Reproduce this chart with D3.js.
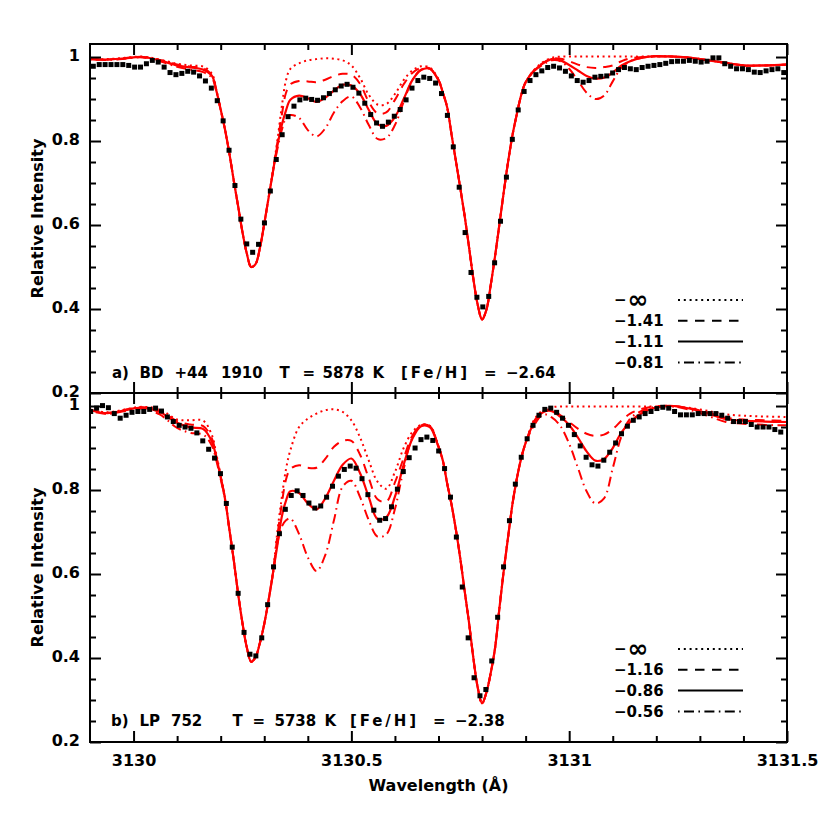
<!DOCTYPE html>
<html><head><meta charset="utf-8">
<script src="https://cdn.jsdelivr.net/npm/d3@7"></script>
<style>
body{margin:0;background:#fff;}
svg text{font-family:"DejaVu Sans",sans-serif;font-weight:bold;fill:#000;}
</style></head><body>
<svg id="chart" width="830" height="830"></svg>
<script>
// ---------------- DATA ----------------
const modelWave = [
3129.90,3129.94,3129.98,3130.02,3130.06,3130.10,3130.13,3130.16,
3130.18,3130.19,3130.20,3130.21,3130.22,3130.23,3130.24,3130.25,3130.26,3130.27,3130.28,3130.29,3130.30,3130.31,3130.32,3130.33,3130.34,3130.35,3130.36,
3130.38,3130.40,3130.42,3130.44,3130.46,3130.48,3130.50,3130.52,3130.54,3130.56,3130.58,3130.60,3130.62,3130.64,3130.66,3130.68,3130.70,
3130.71,3130.72,3130.73,3130.74,3130.75,3130.76,3130.77,3130.78,3130.79,3130.80,3130.81,3130.82,3130.83,3130.84,3130.85,3130.86,3130.87,3130.88,3130.89,3130.90,
3130.92,3130.94,3130.96,3130.98,3131.00,3131.02,3131.04,3131.06,3131.08,3131.10,3131.12,3131.14,
3131.17,3131.20,3131.24,3131.28,3131.32,3131.36,3131.40,3131.45,3131.50];

// panel a) models
const topInf = [
0.995,0.995,0.998,1.001,0.994,0.984,0.980,0.977,
0.960,0.922,0.876,0.827,0.770,0.706,0.645,0.583,0.532,0.500,0.507,0.545,0.603,0.665,0.730,0.800,0.880,0.945,0.972,
0.985,0.992,0.995,0.997,0.996,0.992,0.980,0.950,0.910,0.887,0.888,0.912,0.945,0.968,0.978,0.975,0.947,
0.915,0.880,0.815,0.752,0.688,0.622,0.548,0.472,0.410,0.375,0.398,0.458,0.527,0.603,0.680,0.752,0.815,0.865,0.910,0.940,
0.970,0.988,0.998,1.001,1.001,1.001,1.001,1.001,1.001,1.001,1.001,1.001,
1.001,1.002,1.001,0.998,0.992,0.986,0.980,0.980,0.982];
const topM141 = [
0.995,0.994,0.997,1.000,0.993,0.982,0.977,0.973,
0.957,0.921,0.875,0.827,0.770,0.706,0.645,0.583,0.532,0.500,0.507,0.545,0.603,0.665,0.727,0.795,0.860,0.915,0.935,
0.943,0.942,0.940,0.946,0.955,0.960,0.958,0.936,0.893,0.866,0.868,0.898,0.935,0.962,0.974,0.973,0.946,
0.915,0.880,0.815,0.752,0.688,0.622,0.548,0.472,0.410,0.375,0.398,0.458,0.527,0.603,0.680,0.752,0.815,0.865,0.910,0.940,
0.969,0.986,0.996,0.996,0.990,0.982,0.976,0.974,0.976,0.980,0.990,0.997,
1.000,1.002,1.001,0.998,0.992,0.986,0.980,0.980,0.982];
const topM111 = [
0.995,0.994,0.997,1.000,0.992,0.980,0.975,0.970,
0.955,0.920,0.875,0.827,0.770,0.706,0.645,0.583,0.532,0.500,0.507,0.545,0.603,0.665,0.727,0.788,0.837,0.873,0.898,
0.908,0.902,0.893,0.903,0.920,0.934,0.932,0.912,0.874,0.840,0.836,0.857,0.900,0.945,0.969,0.972,0.945,
0.915,0.880,0.815,0.752,0.688,0.622,0.548,0.472,0.410,0.375,0.398,0.458,0.527,0.603,0.680,0.752,0.815,0.865,0.910,0.940,
0.968,0.985,0.995,0.992,0.981,0.968,0.955,0.949,0.951,0.963,0.980,0.990,
0.999,1.002,1.001,0.998,0.992,0.986,0.980,0.980,0.982];
const topM081 = [
0.995,0.993,0.996,0.999,0.990,0.977,0.970,0.964,
0.950,0.918,0.874,0.827,0.770,0.706,0.645,0.583,0.532,0.500,0.507,0.545,0.603,0.665,0.727,0.780,0.825,0.855,0.862,
0.855,0.826,0.811,0.830,0.868,0.895,0.906,0.880,0.838,0.805,0.807,0.838,0.893,0.945,0.970,0.972,0.944,
0.915,0.880,0.815,0.752,0.688,0.622,0.548,0.472,0.410,0.375,0.398,0.458,0.527,0.603,0.680,0.752,0.815,0.865,0.910,0.940,
0.967,0.982,0.992,0.990,0.972,0.944,0.915,0.900,0.908,0.942,0.975,0.990,
0.999,1.001,1.001,0.998,0.992,0.986,0.980,0.980,0.982];

// panel b) models
const botInf = [
0.992,0.985,0.992,0.998,0.992,0.968,0.966,0.965,
0.930,0.885,0.835,0.780,0.706,0.633,0.553,0.483,0.425,0.391,0.402,0.436,0.481,0.538,0.605,0.700,0.780,0.850,0.895,
0.950,0.970,0.982,0.990,0.992,0.986,0.966,0.925,0.870,0.820,0.803,0.843,0.900,0.938,0.955,0.953,0.904,
0.870,0.815,0.765,0.705,0.637,0.560,0.485,0.400,0.330,0.292,0.318,0.365,0.425,0.520,0.610,0.690,0.768,0.828,0.876,0.912,
0.968,0.990,0.997,0.999,0.999,0.999,0.999,0.999,0.999,0.999,0.999,0.999,
0.999,0.999,0.999,0.995,0.988,0.980,0.977,0.975,0.974];
const botM116 = [
0.991,0.984,0.991,0.997,0.989,0.964,0.956,0.952,
0.922,0.880,0.832,0.779,0.706,0.633,0.553,0.483,0.425,0.391,0.402,0.436,0.481,0.538,0.602,0.690,0.765,0.825,0.850,
0.859,0.853,0.853,0.874,0.903,0.917,0.917,0.884,0.828,0.778,0.772,0.818,0.876,0.929,0.954,0.952,0.903,
0.870,0.815,0.765,0.705,0.637,0.560,0.485,0.400,0.330,0.292,0.318,0.365,0.425,0.520,0.610,0.690,0.768,0.828,0.876,0.912,
0.965,0.987,0.992,0.978,0.962,0.946,0.934,0.929,0.932,0.945,0.965,0.982,
0.994,0.999,1.000,0.994,0.984,0.972,0.968,0.966,0.965];
const botM086 = [
0.990,0.983,0.990,0.996,0.986,0.960,0.949,0.945,
0.915,0.877,0.831,0.779,0.706,0.633,0.553,0.483,0.425,0.391,0.402,0.436,0.481,0.538,0.602,0.668,0.735,0.775,0.797,
0.793,0.768,0.754,0.780,0.822,0.860,0.875,0.840,0.783,0.731,0.735,0.784,0.860,0.922,0.952,0.950,0.902,
0.870,0.815,0.765,0.705,0.637,0.560,0.485,0.400,0.330,0.292,0.318,0.365,0.425,0.520,0.610,0.690,0.768,0.828,0.876,0.912,
0.962,0.985,0.988,0.974,0.955,0.925,0.892,0.870,0.874,0.900,0.937,0.962,
0.985,0.997,1.000,0.993,0.982,0.969,0.965,0.963,0.962];
const botM056 = [
0.988,0.981,0.988,0.994,0.980,0.948,0.936,0.932,
0.905,0.870,0.826,0.776,0.706,0.633,0.553,0.483,0.425,0.391,0.402,0.436,0.481,0.538,0.600,0.672,0.712,0.728,0.732,
0.695,0.640,0.607,0.645,0.728,0.808,0.822,0.783,0.728,0.689,0.694,0.755,0.850,0.925,0.954,0.952,0.904,
0.870,0.815,0.765,0.705,0.637,0.560,0.485,0.400,0.330,0.292,0.318,0.365,0.425,0.520,0.610,0.690,0.768,0.828,0.876,0.912,
0.955,0.980,0.973,0.952,0.910,0.853,0.797,0.768,0.780,0.852,0.928,0.970,
0.990,0.998,0.999,0.990,0.976,0.962,0.958,0.955,0.954];

// observed spectra (uniformly sampled)
const topObsStart = 3129.9076, topObsStep = 0.013547;
const topObs = [
0.978,0.982,0.982,0.982,0.982,0.982,0.980,0.976,0.976,0.984,
0.992,0.988,0.976,0.963,0.958,0.961,0.966,0.964,0.955,0.943,
0.926,0.896,0.848,0.778,0.694,0.614,0.555,0.535,0.554,0.605,
0.681,0.756,0.815,0.858,0.883,0.898,0.902,0.899,0.897,0.903,
0.913,0.922,0.931,0.935,0.928,0.914,0.890,0.863,0.843,0.835,
0.845,0.859,0.875,0.898,0.926,0.944,0.952,0.949,0.938,0.913,
0.861,0.786,0.690,0.582,0.487,0.428,0.405,0.430,0.510,0.609,
0.714,0.804,0.874,0.918,0.944,0.958,0.967,0.975,0.978,0.974,
0.966,0.955,0.944,0.940,0.944,0.952,0.954,0.955,0.962,0.970,
0.975,0.972,0.970,0.975,0.978,0.980,0.982,0.985,0.989,0.990,
0.990,0.992,0.990,0.988,0.990,0.998,0.998,0.984,0.978,0.972,
0.972,0.970,0.964,0.963,0.967,0.970,0.972,0.963];
const botObsStart = 3129.9016, botObsStep = 0.013539;
const botObs = [
0.987,0.995,1.001,0.996,0.982,0.971,0.978,0.985,0.987,0.987,
0.992,0.995,0.988,0.974,0.963,0.954,0.950,0.947,0.936,0.917,
0.897,0.876,0.839,0.768,0.664,0.554,0.461,0.409,0.405,0.448,
0.527,0.617,0.696,0.754,0.787,0.798,0.787,0.769,0.757,0.762,
0.783,0.809,0.833,0.849,0.857,0.852,0.827,0.789,0.752,0.728,
0.732,0.760,0.802,0.844,0.877,0.900,0.920,0.926,0.918,0.893,
0.851,0.783,0.688,0.569,0.448,0.353,0.310,0.325,0.393,0.497,
0.617,0.727,0.814,0.878,0.922,0.954,0.978,0.992,0.995,0.985,
0.971,0.954,0.932,0.905,0.878,0.860,0.857,0.871,0.890,0.912,
0.934,0.952,0.966,0.974,0.982,0.987,0.994,0.997,0.995,0.987,
0.979,0.979,0.979,0.982,0.982,0.982,0.982,0.978,0.971,0.963,
0.963,0.963,0.956,0.950,0.950,0.950,0.944,0.938];

const topLegend = ["−1.41","−1.11","−0.81"];
const botLegend = ["−1.16","−0.86","−0.56"];
const topTitleWords = ["a)","BD","+44","1910","T","=","5878","K","[Fe/H]","=","−2.64"];
const botTitleWords = ["b)","LP","752","T","=","5738","K","[Fe/H]","=","−2.38"];

const xMajor = [3130, 3130.5, 3131, 3131.5];
const xMajorLabels = ["3130","3130.5","3131","3131.5"];
const xMinor = [3130.1,3130.2,3130.3,3130.4,3130.6,3130.7,3130.8,3130.9,3131.1,3131.2,3131.3,3131.4];
const yMajor = [0.2,0.4,0.6,0.8,1.0];
const yMajorLabels = ["0.2","0.4","0.6","0.8","1"];
const yMinor = [0.25,0.3,0.35,0.45,0.5,0.55,0.65,0.7,0.75,0.85,0.9,0.95];

// ---------------- LAYOUT ----------------
const svg = d3.select("#chart");
const L = 90, R = 787;
const x = d3.scaleLinear().domain([3129.9, 3131.5]).range([L, R]);
const dashes = ["2,3.6", "9.5,7", null, "1.6,4.4,10,4.4"];
const legendDashes = ["2,3.8", "9.5,7.5", null, "1.6,4.4,10,4.4"];

const panels = [
  {top:44, bottom:393, models:[topInf,topM141,topM111,topM081], obs:topObs, start:topObsStart, step:topObsStep,
   legend:topLegend, words:topTitleWords, wordX:[112,139.5,174.5,221,279.5,302.5,322.5,372.5,401,484,506], titleY:378, showX:false},
  {top:393, bottom:742, models:[botInf,botM116,botM086,botM056], obs:botObs, start:botObsStart, step:botObsStep,
   legend:botLegend, words:botTitleWords, wordX:[111,139.5,171,232.5,252.5,274.5,324.5,350,433,455], titleY:726, showX:true}
];

function styleAxis(g){
  g.select(".domain").remove();
  g.selectAll(".tick line").attr("stroke","#000").attr("stroke-width",2);
  g.attr("font-family","DejaVu Sans").attr("font-size",16).attr("font-weight","bold");
  g.selectAll(".tick text").attr("fill","#000");
}

panels.forEach((p, pi) => {
  const y = d3.scaleLinear().domain([0.2, 1.031]).range([p.bottom, p.top]);
  const clipId = "clip" + pi;
  svg.append("clipPath").attr("id", clipId).append("rect")
    .attr("x", L).attr("y", p.top).attr("width", R - L).attr("height", p.bottom - p.top);
  const g = svg.append("g").attr("clip-path", `url(#${clipId})`);

  const line = d3.line().x((d, i) => x(modelWave[i])).y(d => y(d)).curve(d3.curveCatmullRom.alpha(0.5));
  p.models.forEach((m, k) => {
    g.append("path").attr("d", line(m)).attr("fill", "none")
      .attr("stroke", "#ff0000").attr("stroke-width", k === 2 ? 2.2 : 2)
      .attr("stroke-dasharray", dashes[k]);
  });

  const s = 5;
  g.selectAll("rect.obs").data(p.obs).join("rect").attr("class", "obs")
    .attr("x", (d, i) => x(p.start + i * p.step) - s / 2)
    .attr("y", d => y(d) - s / 2)
    .attr("width", s).attr("height", s).attr("fill", "#000");

  // axes with inward ticks
  const fmtX = d => p.showX ? xMajorLabels[xMajor.indexOf(d)] : "";
  const fmtY = d => yMajorLabels[yMajor.indexOf(d)];
  svg.append("g").attr("transform", `translate(0,${p.bottom})`)
    .call(d3.axisBottom(x).tickValues(xMajor).tickSize(-11).tickPadding(13).tickFormat(fmtX)).call(styleAxis);
  svg.append("g").attr("transform", `translate(0,${p.bottom})`)
    .call(d3.axisBottom(x).tickValues(xMinor).tickSize(-6).tickFormat("")).call(styleAxis);
  svg.append("g").attr("transform", `translate(0,${p.top})`)
    .call(d3.axisTop(x).tickValues(xMajor).tickSize(-11).tickFormat("")).call(styleAxis);
  svg.append("g").attr("transform", `translate(0,${p.top})`)
    .call(d3.axisTop(x).tickValues(xMinor).tickSize(-6).tickFormat("")).call(styleAxis);
  const gy = svg.append("g").attr("transform", `translate(${L},0)`)
    .call(d3.axisLeft(y).tickValues(yMajor).tickSize(-11).tickPadding(10).tickFormat(fmtY)).call(styleAxis);
  gy.selectAll(".tick text").attr("dy", "0.24em");
  svg.append("g").attr("transform", `translate(${L},0)`)
    .call(d3.axisLeft(y).tickValues(yMinor).tickSize(-6).tickFormat("")).call(styleAxis);
  svg.append("g").attr("transform", `translate(${R},0)`)
    .call(d3.axisRight(y).tickValues(yMajor).tickSize(-11).tickFormat("")).call(styleAxis);
  svg.append("g").attr("transform", `translate(${R},0)`)
    .call(d3.axisRight(y).tickValues(yMinor).tickSize(-6).tickFormat("")).call(styleAxis);

  svg.append("rect").attr("x", L).attr("y", p.top).attr("width", R - L).attr("height", p.bottom - p.top)
    .attr("fill", "none").attr("stroke", "#000").attr("stroke-width", 2);

  // legend
  const rowY0 = p.bottom - 93, rowDy = 20.8;
  const labels = ["INF"].concat(p.legend);
  labels.forEach((lab, k) => {
    const ry = rowY0 + k * rowDy;
    const t = svg.append("text").attr("x", 614).attr("y", ry).attr("dy", "0.36em").attr("font-size", 15);
    if (lab === "INF") {
      t.append("tspan").text("−");
      t.append("tspan").attr("font-size", 25).attr("dx", 1).attr("dy", "0.12em").text("∞");
    } else {
      t.text(lab);
    }
    svg.append("line").attr("x1", 678).attr("x2", 743).attr("y1", ry).attr("y2", ry)
      .attr("stroke", "#000").attr("stroke-width", 2).attr("stroke-dasharray", legendDashes[k]);
  });

  // title line
  const tt = svg.append("text").attr("y", p.titleY).attr("font-size", 15);
  p.words.forEach((w, k) => {
    const ts = tt.append("tspan").attr("x", p.wordX[k]).text(w);
    if (w === "[Fe/H]") ts.attr("textLength", 66).attr("lengthAdjust", "spacing");
  });

  // y axis title
  svg.append("text").attr("transform", `translate(43,${(p.top + p.bottom) / 2}) rotate(-90)`)
    .attr("text-anchor", "middle").attr("font-size", 16).text("Relative Intensity");
});

svg.append("text").attr("x", (L + R) / 2).attr("y", 791).attr("text-anchor", "middle")
  .attr("font-size", 16).text("Wavelength (Å)");
</script>
</body></html>
